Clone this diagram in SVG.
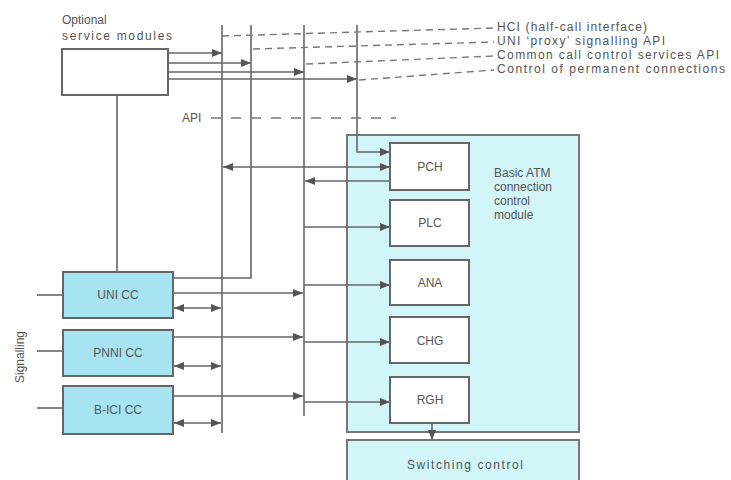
<svg xmlns="http://www.w3.org/2000/svg" width="731" height="480" viewBox="0 0 731 480">
<defs>
<marker id="ah" viewBox="0 0 10 8" refX="10" refY="4" markerWidth="10" markerHeight="8" markerUnits="userSpaceOnUse" orient="auto-start-reverse">
<path d="M0,0 L10,4 L0,8 Z" fill="#555"/>
</marker>
</defs>
<style>
.bg{fill:#fff}
.ln{fill:none;stroke:#666;stroke-width:1.6}
.dash{fill:none;stroke:#777;stroke-width:1.4;stroke-dasharray:7 5}
.box{fill:#fff;stroke:#666;stroke-width:2}
.cc{fill:#a6e4f2;stroke:#666;stroke-width:2}
.mod{fill:#d2f5fa;stroke:#777;stroke-width:2}
text{font-family:"Liberation Sans","DejaVu Sans",Arial,sans-serif;fill:#555;font-size:12px}
.c{text-anchor:middle}
</style>
<rect class="bg" x="0" y="0" width="731" height="480"/>

<g id="module">
<rect class="mod" x="347" y="135" width="232" height="297"/>
<text x="494" y="177">Basic ATM</text>
<text x="494" y="191">connection</text>
<text x="494" y="205">control</text>
<text x="494" y="219">module</text>
</g>

<g id="switching">
<rect class="mod" x="347" y="440" width="232" height="50"/>
<text class="c" x="465" y="469" textLength="116" lengthAdjust="spacing">Switching control</text>
</g>

<g id="optional">
<rect class="box" x="62" y="49" width="106" height="46"/>
<text x="62" y="24">Optional</text>
<text x="62" y="40" textLength="110" lengthAdjust="spacing">service modules</text>
</g>

<g id="pch"><rect class="box" x="390" y="143" width="79" height="47"/><text class="c" x="430" y="171">PCH</text></g>
<g id="plc"><rect class="box" x="390" y="200" width="79" height="46"/><text class="c" x="430" y="227">PLC</text></g>
<g id="ana"><rect class="box" x="390" y="260" width="79" height="45"/><text class="c" x="430" y="287">ANA</text></g>
<g id="chg"><rect class="box" x="390" y="317" width="79" height="46"/><text class="c" x="430" y="345">CHG</text></g>
<g id="rgh"><rect class="box" x="390" y="377" width="79" height="46"/><text class="c" x="430" y="404">RGH</text></g>

<g id="unicc"><rect class="cc" x="63" y="272" width="110" height="46"/><text class="c" x="118" y="299">UNI CC</text></g>
<g id="pnnicc"><rect class="cc" x="63" y="330" width="110" height="46"/><text class="c" x="118" y="357">PNNI CC</text></g>
<g id="bicicc"><rect class="cc" x="63" y="386" width="110" height="48"/><text class="c" x="118" y="414">B-ICI CC</text></g>

<g id="labels">
<text x="497" y="31" textLength="150" lengthAdjust="spacing">HCI (half-call interface)</text>
<text x="497" y="45" textLength="168" lengthAdjust="spacing">UNI ‘proxy’ signalling API</text>
<text x="497" y="59" textLength="222" lengthAdjust="spacing">Common call control services API</text>
<text x="497" y="73" textLength="228" lengthAdjust="spacing">Control of permanent connections</text>
<text x="182" y="122">API</text>
<text class="c" transform="translate(24,357) rotate(-90)">Signalling</text>
</g>

<g id="connectors">
<line class="ln" x1="222" y1="25" x2="222" y2="433"/>
<path class="ln" d="M251,25 V278 H173"/>
<line class="ln" x1="304" y1="25" x2="304" y2="416"/>
<path class="ln" d="M357,25 V152 H390" marker-end="url(#ah)"/>
<line class="dash" x1="222" y1="36" x2="494" y2="28"/>
<line class="dash" x1="253" y1="49" x2="494" y2="42"/>
<line class="dash" x1="306" y1="64" x2="494" y2="56"/>
<line class="dash" x1="359" y1="80" x2="494" y2="70"/>
<line class="dash" x1="211" y1="118" x2="396" y2="118" style="stroke-dasharray:10 10"/>
<line class="ln" x1="168" y1="53" x2="222" y2="53" marker-end="url(#ah)"/>
<line class="ln" x1="168" y1="63" x2="251" y2="63" marker-end="url(#ah)"/>
<line class="ln" x1="168" y1="72" x2="304" y2="72" marker-end="url(#ah)"/>
<line class="ln" x1="168" y1="79" x2="357" y2="79" marker-end="url(#ah)"/>
<line class="ln" x1="117" y1="95" x2="117" y2="272"/>
<line class="ln" x1="223" y1="167" x2="390" y2="167" marker-start="url(#ah)" marker-end="url(#ah)"/>
<line class="ln" x1="390" y1="181" x2="305" y2="181" marker-end="url(#ah)"/>
<line class="ln" x1="304" y1="227" x2="390" y2="227" marker-end="url(#ah)"/>
<line class="ln" x1="304" y1="285" x2="390" y2="285" marker-end="url(#ah)"/>
<line class="ln" x1="304" y1="342" x2="390" y2="342" marker-end="url(#ah)"/>
<line class="ln" x1="304" y1="402" x2="390" y2="402" marker-end="url(#ah)"/>
<line class="ln" x1="432" y1="423" x2="432" y2="440" marker-end="url(#ah)"/>
<line class="ln" x1="173" y1="293" x2="303" y2="293" marker-end="url(#ah)"/>
<line class="ln" x1="174" y1="308" x2="221" y2="308" marker-start="url(#ah)" marker-end="url(#ah)"/>
<line class="ln" x1="173" y1="337" x2="303" y2="337" marker-end="url(#ah)"/>
<line class="ln" x1="174" y1="366" x2="221" y2="366" marker-start="url(#ah)" marker-end="url(#ah)"/>
<line class="ln" x1="173" y1="396" x2="303" y2="396" marker-end="url(#ah)"/>
<line class="ln" x1="174" y1="423" x2="221" y2="423" marker-start="url(#ah)" marker-end="url(#ah)"/>
<line class="ln" x1="37" y1="295" x2="63" y2="295"/>
<line class="ln" x1="37" y1="351" x2="63" y2="351"/>
<line class="ln" x1="37" y1="408" x2="63" y2="408"/>
</g>
</svg>
